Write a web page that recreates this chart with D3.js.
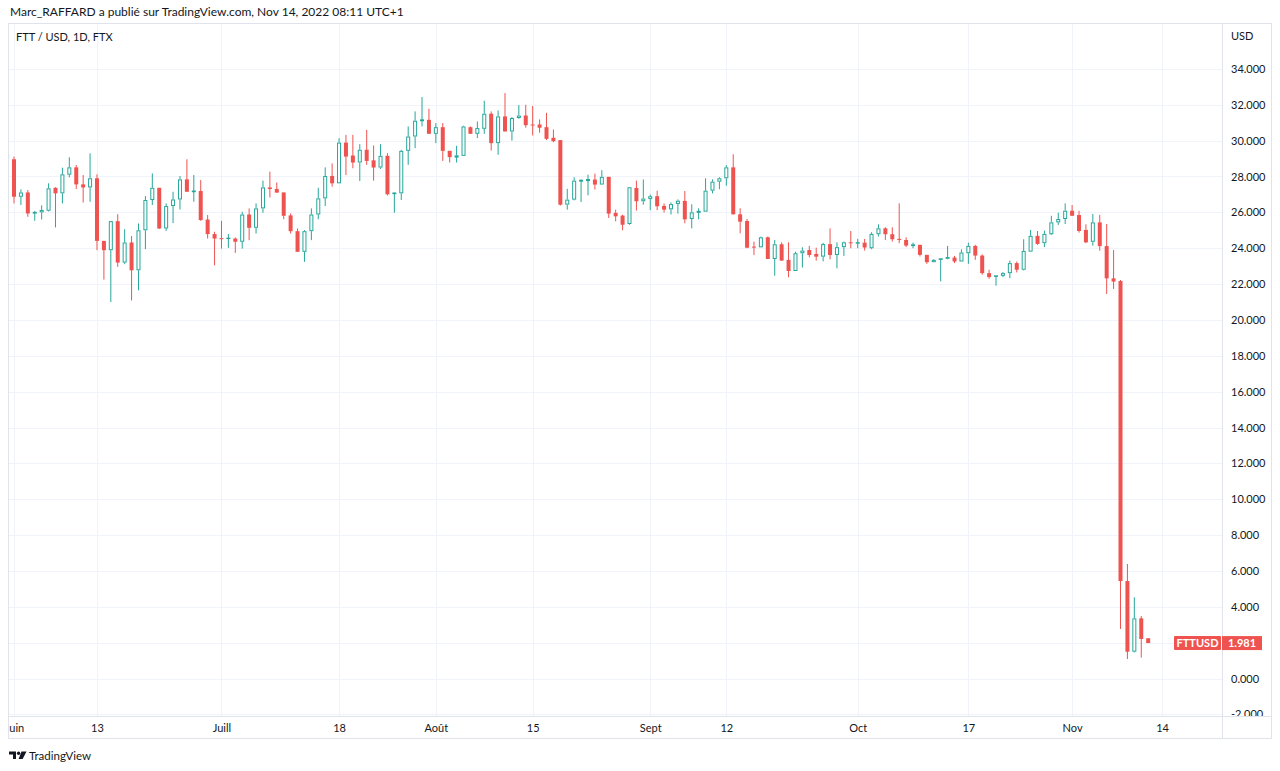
<!DOCTYPE html>
<html><head><meta charset="utf-8">
<script src="https://cdn.jsdelivr.net/npm/d3@7"></script>
<style>
html,body{margin:0;padding:0;background:#fff;}
svg{display:block;}
text{font-family:"Lato","Noto Sans",sans-serif;}
</style></head><body>
<svg id="chart" width="1280" height="771"></svg>
<script>
// ---- data (May 31 .. Nov 12, 2022, daily) ----
const firstDay = "2022-05-31";
const open = [29.25,
 28.96,26.87,27.11,25.96,26.00,26.09,27.37,27.06,28.10,28.51,27.56,27.39,27.90,24.41,23.89,25.51,23.20,24.32,22.77,25.00,26.69,27.37,25.10,26.35,26.72,27.84,27.15,27.19,25.60,24.79,
 24.56,24.54,24.54,24.36,25.88,25.14,26.22,27.39,27.30,27.11,25.83,24.95,23.80,24.95,25.88,26.78,28.03,27.62,29.89,29.17,28.78,29.49,28.90,28.50,29.15,27.04,27.06,29.43,30.23,31.11,31.16,
 30.38,30.75,29.43,29.08,29.15,30.75,30.38,30.66,31.50,29.86,31.35,30.51,31.26,31.40,30.90,30.90,30.75,30.16,30.03,26.43,26.71,27.74,27.77,27.83,27.55,27.98,25.97,25.82,25.35,27.36,26.62,
 26.75,26.90,26.36,26.17,26.46,26.64,25.63,26.00,26.04,27.21,27.71,27.90,28.51,25.89,25.52,24.09,24.05,24.61,23.40,24.22,23.35,22.73,23.72,23.90,23.68,23.53,24.23,23.62,24.06,24.33,
 24.28,24.31,24.00,24.78,25.11,24.78,24.52,24.46,24.15,24.19,23.63,23.22,23.35,23.44,23.48,23.26,23.72,24.13,23.59,22.61,22.43,22.46,22.61,23.17,22.80,23.81,24.69,24.28,24.78,25.44,25.63,
 26.09,25.85,25.02,24.36,25.44,24.12,22.32,22.17,5.44,1.50,3.36,2.25];
const high = [29.30,
 29.11,27.28,27.24,26.07,26.39,27.62,27.40,28.49,29.07,28.64,28.08,29.29,28.12,24.41,25.51,25.90,25.06,24.68,25.38,26.91,28.17,27.37,26.50,27.15,28.03,28.96,28.08,27.80,25.85,24.92,
 25.53,24.79,24.60,26.03,26.22,26.50,27.77,28.27,27.67,27.11,25.94,25.10,25.01,26.22,27.37,28.51,28.73,30.13,30.32,30.32,29.80,30.60,29.73,29.80,29.30,27.10,29.49,30.79,31.63,32.43,31.78,
 30.98,30.98,29.43,29.71,30.83,30.79,31.07,32.22,31.63,31.68,32.65,31.31,31.98,32.00,31.93,31.18,31.55,30.62,30.03,27.31,27.96,27.83,28.10,28.16,28.35,27.98,26.15,25.87,27.40,27.77,27.83,
 26.99,27.21,26.50,26.55,26.72,27.19,26.45,26.23,27.90,27.84,27.96,28.64,29.24,26.23,25.63,24.37,24.65,24.65,24.46,24.33,24.33,23.81,24.05,24.13,24.03,24.30,25.11,24.33,24.37,24.96,
 24.52,24.52,24.89,25.33,25.17,25.17,26.50,24.61,24.31,24.19,23.63,23.39,23.44,24.13,23.57,23.94,24.31,24.19,23.66,22.80,22.46,22.67,23.31,23.26,24.50,25.02,24.96,24.98,25.81,25.98,26.50,
 26.41,26.09,25.33,25.91,25.85,25.35,23.90,22.23,6.39,4.53,3.49,2.25];
const low = [28.80,
 26.50,26.41,25.75,25.53,25.60,26.05,25.16,26.50,27.95,27.30,26.55,26.59,23.89,22.25,21.00,22.96,23.11,21.09,21.65,23.95,26.41,25.07,24.97,25.40,26.16,27.15,26.59,25.53,24.54,23.05,
 23.98,24.02,23.74,23.98,24.45,24.82,25.98,26.83,27.10,25.62,24.82,23.80,23.24,24.45,25.62,26.35,27.43,27.62,28.08,28.46,27.75,28.65,27.77,28.42,26.94,25.98,26.69,28.65,29.58,30.79,30.38,
 29.86,28.87,28.78,28.78,29.15,30.38,30.14,30.38,29.45,29.21,30.51,30.00,31.22,30.72,30.29,30.44,30.03,29.91,26.38,26.15,26.67,26.58,26.95,27.27,27.55,25.69,25.50,25.00,25.31,26.10,26.43,
 26.12,26.12,25.99,25.88,25.93,25.39,25.11,25.61,26.04,27.06,27.29,27.49,25.89,24.83,24.00,23.62,24.05,23.40,22.47,23.31,22.38,22.73,22.92,23.49,23.31,23.27,23.38,22.88,23.57,24.00,
 24.00,23.87,23.94,24.65,24.46,24.37,24.28,24.06,24.00,23.54,23.13,23.22,22.15,23.39,23.17,23.26,23.13,23.35,22.52,22.30,21.91,22.39,22.33,22.65,22.76,23.81,24.19,24.06,24.74,25.30,25.35,
 25.81,24.87,24.28,24.14,23.86,21.45,21.73,2.77,1.09,1.46,1.17,1.981];
const close = [28.96,
 26.87,27.11,25.94,26.00,26.13,27.34,27.06,28.12,28.51,27.56,27.39,27.90,24.41,23.89,25.51,23.20,24.32,22.77,25.00,26.69,27.37,25.10,26.35,26.72,27.84,27.15,27.19,25.57,24.79,24.54,
 24.54,24.56,24.36,25.88,25.14,26.22,27.39,27.30,27.10,25.81,24.95,23.80,24.95,25.88,26.78,28.03,27.62,29.89,29.11,28.78,29.49,28.87,28.50,29.15,27.01,27.08,29.43,30.23,31.11,31.16,30.38,
 30.75,29.43,29.08,29.15,30.79,30.38,30.70,31.50,29.86,31.35,30.51,31.26,31.40,30.86,30.86,30.72,30.10,29.97,26.43,26.71,27.77,27.79,27.83,27.55,27.98,25.93,25.78,25.31,27.40,26.62,26.77,
 26.90,26.34,26.15,26.46,26.65,25.61,26.00,26.06,27.21,27.71,27.90,28.51,25.89,25.48,24.03,24.05,24.61,23.40,24.22,23.31,22.73,23.72,23.87,23.62,23.53,24.23,23.62,24.06,24.33,24.28,
 24.31,24.04,24.80,25.11,24.78,24.50,24.46,24.15,24.19,23.63,23.22,23.35,23.44,23.48,23.26,23.76,24.13,23.59,22.61,22.39,22.46,22.61,23.17,22.80,23.85,24.69,24.24,24.80,25.44,25.63,26.09,
 25.81,24.96,24.33,25.44,24.12,22.32,22.14,5.44,1.50,3.36,2.21,1.981];

const priceTicks = [-2,0,2,4,6,8,10,12,14,16,18,20,22,24,26,28,30,32,34];
const timeTickDates = ["2022-06-01","2022-06-13","2022-07-01","2022-07-18","2022-08-01","2022-08-15","2022-09-01","2022-09-12","2022-10-01","2022-10-17","2022-11-01","2022-11-14"];
const timeTickLabels = ["Juin","13","Juill","18","Août","15","Sept","12","Oct","17","Nov","14"];
const headerText = "Marc_RAFFARD a publié sur TradingView.com, Nov 14, 2022 08:11 UTC+1";
const legendText = "FTT / USD, 1D, FTX";
const currencyText = "USD";
const symbolText = "FTTUSD";
const lastPriceText = "1.981";
const brandText = "TradingView";

// ---- layout ----
const UP = "#26a69a", DOWN = "#ef5350", GRID = "#f0f3fa", BORDER = "#e0e3eb", TXT = "#131722";
const plot = {left: 8, top: 23, right: 1222, bottom: 716};
const frame = {left: 8, top: 23, right: 1272, bottom: 739};

const parse = d3.utcParse("%Y-%m-%d");
const start = parse(firstDay);
const data = close.map((c, i) => ({date: d3.utcDay.offset(start, i), o: open[i], h: high[i], l: low[i], c: c}));

const x = d3.scaleUtc().domain([parse("2022-06-01"), parse("2022-11-14")]).range([14, 1162]);
const y = d3.scaleLinear().domain([0, 34]).range([678.6, 68.9]);
const lastY = y(close[close.length - 1]);

const svg = d3.select("#chart");
svg.append("rect").attr("width", 1280).attr("height", 771).attr("fill", "#fff");

const defs = svg.append("defs");
defs.append("clipPath").attr("id", "plotClip").append("rect")
  .attr("x", plot.left).attr("y", plot.top).attr("width", plot.right - plot.left).attr("height", plot.bottom - plot.top);
defs.append("clipPath").attr("id", "timeClip").append("rect")
  .attr("x", plot.left).attr("y", plot.bottom).attr("width", plot.right - plot.left).attr("height", frame.bottom - plot.bottom);
defs.append("clipPath").attr("id", "priceClip").append("rect")
  .attr("x", plot.right).attr("y", plot.top).attr("width", frame.right - plot.right).attr("height", plot.bottom - plot.top);

// header
svg.append("text").attr("x", 10).attr("y", 16).attr("font-size", 12).attr("fill", TXT).text(headerText);

// grid
const grid = svg.append("g").attr("clip-path", "url(#plotClip)");
grid.selectAll("line.h").data(priceTicks).join("line")
  .attr("x1", plot.left).attr("x2", plot.right)
  .attr("y1", d => Math.round(y(d)) + 0.5).attr("y2", d => Math.round(y(d)) + 0.5)
  .attr("stroke", GRID).attr("stroke-width", 1);
grid.selectAll("line.v").data(timeTickDates).join("line")
  .attr("x1", d => Math.round(x(parse(d))) + 0.5).attr("x2", d => Math.round(x(parse(d))) + 0.5)
  .attr("y1", plot.top).attr("y2", plot.bottom)
  .attr("stroke", GRID).attr("stroke-width", 1);

// candles
const bw = 4;
const candles = svg.append("g").attr("clip-path", "url(#plotClip)");
data.forEach(d => {
  const cx = x(d.date);
  const up = d.c >= d.o;
  const col = up ? UP : DOWN;
  const yTop = y(Math.max(d.o, d.c)), yBot = y(Math.min(d.o, d.c));
  const g = candles.append("g");
  if (up) {
    g.append("line").attr("x1", cx).attr("x2", cx).attr("y1", y(d.h)).attr("y2", yTop).attr("stroke", col).attr("stroke-width", 1);
    g.append("line").attr("x1", cx).attr("x2", cx).attr("y1", yBot).attr("y2", y(d.l)).attr("stroke", col).attr("stroke-width", 1);
    const hgt = yBot - yTop;
    if (hgt < 1.5) {
      g.append("rect").attr("x", cx - bw / 2).attr("y", yTop - 0.5).attr("width", bw).attr("height", Math.max(1, hgt + 1)).attr("fill", col);
    } else {
      g.append("rect").attr("x", cx - bw / 2 + 0.5).attr("y", yTop + 0.5).attr("width", bw - 1).attr("height", hgt - 1)
        .attr("fill", "#fff").attr("stroke", col).attr("stroke-width", 1);
    }
  } else {
    g.append("line").attr("x1", cx).attr("x2", cx).attr("y1", y(d.h)).attr("y2", y(d.l)).attr("stroke", col).attr("stroke-width", 1);
    g.append("rect").attr("x", cx - bw / 2).attr("y", yTop).attr("width", bw).attr("height", Math.max(1, yBot - yTop)).attr("fill", col);
  }
});

// legend
svg.append("text").attr("x", 16).attr("y", 41).attr("font-size", 11).attr("fill", TXT).text(legendText);

// price axis (tick labels hidden under the last-price label, as in TradingView)
const fmt = d => d3.format(".3f")(d).replace("\u2212", "-");
const pAxis = svg.append("g").attr("clip-path", "url(#priceClip)")
  .append("g").attr("transform", `translate(${plot.right},0)`)
  .call(d3.axisRight(y).tickValues(priceTicks.filter(t => Math.abs(y(t) - lastY) > 12)).tickFormat(fmt).tickSize(0).tickPadding(9));
pAxis.select(".domain").remove();
pAxis.selectAll("text").attr("font-size", 11).attr("fill", TXT).attr("font-family", "Lato, 'Noto Sans', sans-serif");
svg.append("text").attr("x", 1231).attr("y", 40).attr("font-size", 11).attr("fill", TXT).text(currencyText);

// time axis
const tAxis = svg.append("g").attr("clip-path", "url(#timeClip)")
  .append("g").attr("transform", `translate(0,${plot.bottom})`)
  .call(d3.axisBottom(x).tickValues(timeTickDates.map(parse)).tickFormat((d, i) => timeTickLabels[i]).tickSize(0).tickPadding(8));
tAxis.select(".domain").remove();
tAxis.selectAll("text").attr("font-size", 11).attr("fill", TXT).attr("font-family", "Lato, 'Noto Sans', sans-serif");

// frame
const fr = svg.append("g").attr("fill", "none").attr("stroke", BORDER).attr("stroke-width", 1);
fr.append("rect").attr("x", frame.left + 0.5).attr("y", frame.top + 0.5).attr("width", frame.right - frame.left - 1).attr("height", frame.bottom - frame.top - 1);
fr.append("line").attr("x1", plot.right + 0.5).attr("x2", plot.right + 0.5).attr("y1", frame.top).attr("y2", frame.bottom);
fr.append("line").attr("x1", frame.left).attr("x2", frame.right).attr("y1", plot.bottom + 0.5).attr("y2", plot.bottom + 0.5);

// last price labels
const lp = svg.append("g");
lp.append("rect").attr("x", 1174).attr("y", lastY - 7).attr("width", 47).attr("height", 14).attr("fill", DOWN).attr("rx", 1);
lp.append("text").attr("x", 1197.5).attr("y", lastY).attr("dy", "0.35em").attr("text-anchor", "middle")
  .attr("font-size", 11).attr("font-weight", "bold").attr("fill", "#fff").text(symbolText);
lp.append("rect").attr("x", 1222).attr("y", lastY - 7).attr("width", 40).attr("height", 14).attr("fill", DOWN);
lp.append("text").attr("x", 1242).attr("y", lastY).attr("dy", "0.35em").attr("text-anchor", "middle")
  .attr("font-size", 11).attr("font-weight", "bold").attr("fill", "#fff").text(lastPriceText);

// brand
const logo = svg.append("g").attr("fill", TXT);
logo.append("path").attr("d", "M9,751.5 H16 V759 H13 V754.5 H9 Z");
logo.append("circle").attr("cx", 18.6).attr("cy", 753.2).attr("r", 1.7);
logo.append("path").attr("d", "M21.5,751.5 H26.5 L22.6,759 H18.6 Z");
svg.append("text").attr("x", 29).attr("y", 760).attr("font-size", 11.5).attr("fill", TXT).text(brandText);
</script>
</body></html>
